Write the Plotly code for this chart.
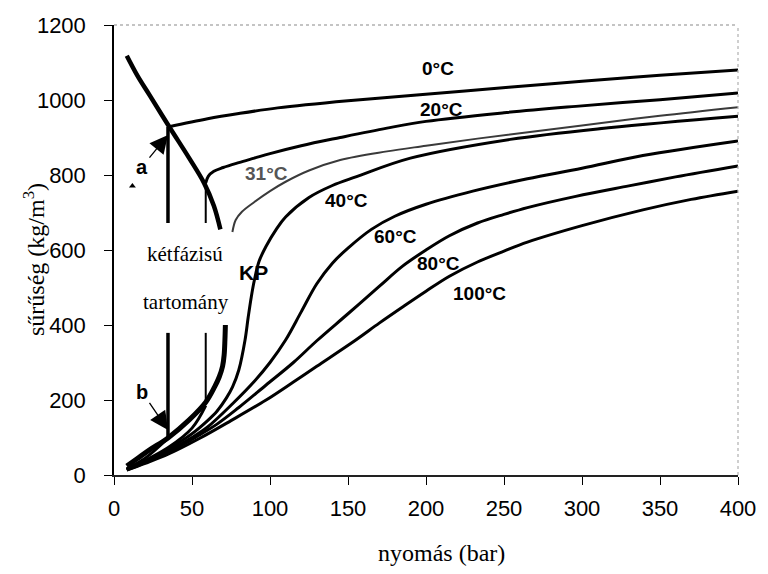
import plotly.graph_objects as go

# ---------------- data (pressure in bar, density in kg/m3) ----------------
sat_liq_p = [8.2, 15, 22.8, 35.5, 48.2, 57.7, 64, 68.2]
sat_liq_rho = [1118, 1065, 1013, 928, 845, 779, 718, 655]

sat_vap_p = [8.2, 15, 22.8, 34.6, 48.2, 58.8, 64.5, 67.5, 69.6, 70.6, 71.1, 71.4]
sat_vap_rho = [24, 44, 67, 99, 147, 194, 235, 262, 290, 320, 360, 400]

t0_gas_p = [8.2, 20, 34.6]
t0_gas_rho = [17, 45, 98]
t0_vert_p = [34.6, 34.6]
t0_vert_low = [98, 379]
t0_vert_high = [672, 928]
t0_liq_p = [34.6, 60, 80, 105, 150, 196, 253, 300, 350, 400]
t0_liq_rho = [928, 950, 964, 979, 998, 1014, 1034, 1050, 1066, 1080]

t20_gas_p = [8.2, 20, 35, 50, 58.8]
t20_gas_rho = [16, 39, 74, 125, 185]
t20_vert_p = [58.8, 58.8]
t20_vert_low = [194, 379]
t20_vert_high = [672, 779]
t20_liq_p = [58.8, 60.5, 64, 70, 80, 90, 100, 120, 145, 175, 200, 250, 296, 350, 400]
t20_liq_rho = [779, 797, 810, 820, 833, 845, 857, 878, 900, 925, 943, 966, 983, 1001, 1019]

t31_p = [75.9, 78, 82, 90, 100, 110, 125, 145, 175, 200, 233, 300, 350, 400]
t31_rho = [648, 680, 702, 728, 757, 782, 812, 840, 863, 878, 897, 932, 958, 981]

t40_p = [8.2, 20, 35, 50, 60, 66, 72, 76, 80, 84, 86, 88, 90, 93, 97.5, 104,
         110, 125, 140, 155, 190, 254, 317, 400]
t40_rho = [15, 37, 70, 110, 145, 170, 205, 235, 280, 360, 420, 475, 520, 570,
           610, 655, 688, 740, 772, 795, 845, 895, 926, 957]

t60_p = [8.2, 20, 35, 50, 60, 76, 90, 100, 110, 120, 130, 140, 150, 165, 180,
         200, 230, 265, 300, 339, 400]
t60_rho = [14, 35, 65, 100, 128, 190, 250, 300, 360, 435, 510, 565, 605, 655,
           690, 722, 757, 790, 818, 852, 891]

t80_p = [8.2, 20, 35, 50, 65.8, 80, 97.5, 115, 130, 150, 170, 185, 200, 215,
         233, 250, 265, 296, 330, 360, 400]
t80_rho = [13.5, 33, 60, 95, 135, 180, 240, 300, 358, 430, 503, 557, 600, 638,
           672, 695, 713, 743, 771, 795, 824]

t100_p = [8.2, 20, 35, 55, 75, 97.5, 115, 130, 155, 170, 185, 200, 215, 233,
          250, 265, 300, 339, 370, 400]
t100_rho = [13, 31, 56, 98, 145, 200, 248, 290, 360, 405, 448, 490, 530, 568,
            597, 621, 665, 707, 735, 757]

iso_labels = ["0°C", "20°C", "31°C", "40°C", "60°C", "80°C", "100°C", "KP"]
iso_label_p = [207.4, 210, 97.5, 149, 180.7, 208, 234, 89.3]
iso_label_rho = [1083, 976, 805, 733, 637, 565, 485, 541]

region_labels = ["kétfázisú", "tartomány"]
region_label_p = [45.4, 46.1]
region_label_rho = [589, 461]

x_ticks = [0, 50, 100, 150, 200, 250, 300, 350, 400]
y_ticks = [0, 200, 400, 600, 800, 1000, 1200]

# ---------------- figure ----------------
fig = go.Figure()


def add_line(px, py, width=3, color="black", smooth=True):
    fig.add_trace(go.Scatter(
        x=px, y=py, mode="lines",
        line=dict(color=color, width=width,
                  shape="spline" if smooth else "linear", smoothing=1.0),
        hoverinfo="skip", showlegend=False))


add_line(t100_p, t100_rho)
add_line(t80_p, t80_rho)
add_line(t60_p, t60_rho)
add_line(t40_p, t40_rho)
add_line(t31_p, t31_rho, width=2, color="#3a3a3a")
add_line(t20_gas_p, t20_gas_rho)
add_line(t20_vert_p, t20_vert_low, width=2, smooth=False)
add_line(t20_vert_p, t20_vert_high, width=2, smooth=False)
add_line(t20_liq_p, t20_liq_rho)
add_line(t0_gas_p, t0_gas_rho)
add_line(t0_vert_p, t0_vert_low, width=3.5, smooth=False)
add_line(t0_vert_p, t0_vert_high, width=3.5, smooth=False)
add_line(t0_liq_p, t0_liq_rho)
add_line(sat_vap_p, sat_vap_rho, width=5)
add_line(sat_liq_p, sat_liq_rho, width=4.5)

# small scan mark
fig.add_trace(go.Scatter(x=[11.8], y=[771], mode="markers",
                         marker=dict(symbol="triangle-up", size=6, color="black"),
                         hoverinfo="skip", showlegend=False))

for t, xp, yp in zip(iso_labels, iso_label_p, iso_label_rho):
    col = "#555555" if t == "31°C" else "black"
    size = 21 if t == "KP" else 19
    fig.add_annotation(x=xp, y=yp, text="<b>%s</b>" % t, showarrow=False,
                       font=dict(family="Liberation Sans", size=size, color=col))

for t, xp, yp in zip(region_labels, region_label_p, region_label_rho):
    fig.add_annotation(x=xp, y=yp, text=t, showarrow=False,
                       font=dict(family="Liberation Serif", size=21, color="black"))

# arrows a and b
fig.add_annotation(x=34.6, y=907, text="<b>a</b>", showarrow=True, ax=-26, ay=32,
                   arrowhead=2, arrowsize=2.8, arrowwidth=1.3, arrowcolor="black",
                   standoff=0,
                   font=dict(family="Liberation Sans", size=20, color="black"))
fig.add_annotation(x=34.6, y=120, text="<b>b</b>", showarrow=True, ax=-26, ay=-38,
                   arrowhead=2, arrowsize=2.8, arrowwidth=1.3, arrowcolor="black",
                   standoff=0,
                   font=dict(family="Liberation Sans", size=20, color="black"))

# axis titles
fig.add_annotation(xref="paper", yref="paper", x=-0.128, y=0.478,
                   text="sűrűség (kg/m<sup>3</sup>)", textangle=-90, showarrow=False,
                   xanchor="center", yanchor="middle",
                   font=dict(family="Liberation Serif", size=24, color="black"))
fig.add_annotation(xref="paper", yref="paper", x=0.525, y=-0.173,
                   text="nyomás (bar)", showarrow=False,
                   xanchor="center", yanchor="middle",
                   font=dict(family="Liberation Serif", size=24, color="black"))

# dotted frame (top and right)
fig.add_shape(type="line", xref="paper", yref="paper", x0=0, x1=1, y0=1, y1=1,
              line=dict(color="#8a8a8a", width=1.2, dash="dot"))
fig.add_shape(type="line", xref="paper", yref="paper", x0=1, x1=1, y0=0, y1=1,
              line=dict(color="#b0b0b0", width=1.2, dash="dot"))

fig.update_xaxes(range=[0, 400], tickvals=x_ticks, ticks="outside", ticklen=8,
                 tickcolor="black", showline=True, linecolor="#222", linewidth=1.5,
                 showgrid=False, zeroline=False, ticklabelstandoff=5,
                 tickfont=dict(family="Liberation Sans", size=22, color="black"))
fig.update_yaxes(range=[0, 1200], tickvals=y_ticks, ticks="outside", ticklen=8,
                 tickcolor="black", showline=True, linecolor="black", linewidth=1.5,
                 showgrid=False, zeroline=False, ticklabelstandoff=14,
                 tickfont=dict(family="Liberation Sans", size=22, color="black"))

fig.update_layout(width=768, height=574, plot_bgcolor="white", paper_bgcolor="white",
                  margin=dict(l=113.5, r=25, t=25, b=99), showlegend=False)

fig.write_html("out.html")
